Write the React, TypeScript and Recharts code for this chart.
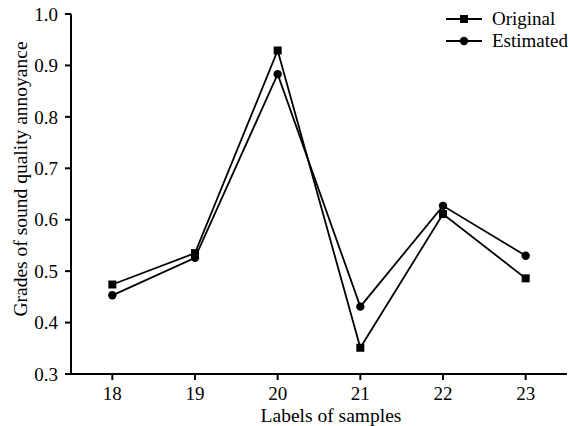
import { LineChart, Line, XAxis, YAxis } from 'recharts';

const samples = [18, 19, 20, 21, 22, 23];
const original = [0.474, 0.535, 0.929, 0.351, 0.611, 0.486];
const estimated = [0.453, 0.526, 0.883, 0.431, 0.627, 0.530];
const yTicks = [0.3, 0.4, 0.5, 0.6, 0.7, 0.8, 0.9, 1.0];

const data = samples.map((s, i) => ({ sample: s, original: original[i], estimated: estimated[i] }));

const FONT = "Liberation Serif";

const SquareDot = (props: any) => {
  const { cx, cy } = props;
  if (cx == null || cy == null) return null;
  return <rect x={cx - 4} y={cy - 4} width={8} height={8} fill="#000" />;
};

const CircleDot = (props: any) => {
  const { cx, cy } = props;
  if (cx == null || cy == null) return null;
  return <circle cx={cx} cy={cy} r={4.2} fill="#000" />;
};

const LegendBox = () => (
  <div style={{ position: 'absolute', left: 446, top: 8, fontFamily: FONT, fontSize: 19, color: '#000', lineHeight: '22px' }}>
    {[
      { name: 'Original', shape: 'square' },
      { name: 'Estimated', shape: 'circle' },
    ].map(it => (
      <div key={it.name} style={{ display: 'flex', alignItems: 'center' }}>
        <svg width={36} height={12} style={{ marginRight: 10 }}>
          <line x1={0} y1={6} x2={36} y2={6} stroke="#000" strokeWidth={1.8} />
          {it.shape === 'square'
            ? <rect x={14} y={2} width={8} height={8} fill="#000" />
            : <circle cx={18} cy={6} r={4.2} fill="#000" />}
        </svg>
        <span>{it.name}</span>
      </div>
    ))}
  </div>
);

const YLabel = () => (
  <text x={20} y={179} transform="rotate(-90 20 179)" textAnchor="middle" dominantBaseline="central"
    fontFamily={FONT} fontSize={19.5} fill="#000">
    Grades of sound quality annoyance
  </text>
);

const XLabel = (props: any) => {
  const vb = props.viewBox || {};
  return (
    <text x={vb.x + vb.width / 2 + 12} y={415} textAnchor="middle" dominantBaseline="central"
      fontFamily={FONT} fontSize={19.5} fill="#000">
      Labels of samples
    </text>
  );
};

const XTick = (props: any) => {
  const { x, y, payload } = props;
  return (
    <text x={x} y={y} dy="0.71em" textAnchor="middle" fontFamily={FONT} fontSize={19} fill="#000">
      {payload.value}
    </text>
  );
};

const YTick = (props: any) => {
  const { x, y, payload } = props;
  return (
    <text x={x} y={y} dy="0.35em" textAnchor="end" fontFamily={FONT} fontSize={19} fill="#000">
      {Number(payload.value).toFixed(1)}
    </text>
  );
};

export default function App() {
  return (
    <div style={{ position: 'absolute', left: 0, top: 0, width: 570, height: 426, background: '#fff', fontFamily: FONT }}>
      <LineChart width={570} height={426} data={data} margin={{ top: 14, right: 3, bottom: 0, left: 0 }}>
        <XAxis
          dataKey="sample"
          type="number"
          domain={[17.5, 23.5]}
          ticks={samples}
          height={52}
          stroke="#000"
          strokeWidth={2}
          tickSize={6}
          tickMargin={7}
          tick={<XTick />}
          label={<XLabel />}
        />
        <YAxis
          type="number"
          domain={[0.3, 1.0]}
          ticks={yTicks}
          width={71}
          stroke="#000"
          strokeWidth={2}
          tickSize={6}
          tickMargin={7}
          tick={<YTick />}
          label={<YLabel />}
        />
        <Line dataKey="original" name="Original" stroke="#000" strokeWidth={1.8} dot={<SquareDot />} isAnimationActive={false} />
        <Line dataKey="estimated" name="Estimated" stroke="#000" strokeWidth={1.8} dot={<CircleDot />} isAnimationActive={false} />
      </LineChart>
      <LegendBox />
    </div>
  );
}
